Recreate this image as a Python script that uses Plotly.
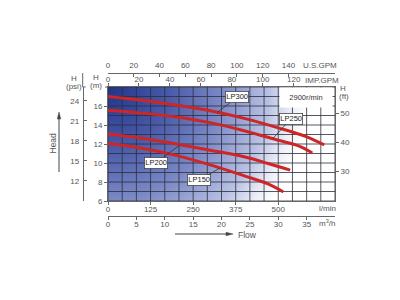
import numpy as np
import plotly.graph_objects as go

# ---------------- data ----------------
FLOW_LPM_300 = [0, 100, 200, 300, 400, 500, 580, 635]
HEAD_M_300 = [17.0, 16.6, 16.1, 15.5, 14.7, 13.7, 12.8, 11.9]
FLOW_LPM_250 = [0, 100, 200, 300, 400, 500, 560, 600]
HEAD_M_250 = [15.55, 15.25, 14.85, 14.25, 13.4, 12.4, 11.8, 11.05]
FLOW_LPM_200 = [0, 100, 200, 300, 400, 470, 535]
HEAD_M_200 = [13.05, 12.6, 12.0, 11.35, 10.65, 9.95, 9.25]
FLOW_LPM_150 = [0, 100, 200, 300, 400, 470, 515]
HEAD_M_150 = [12.05, 11.55, 10.8, 9.8, 8.65, 7.8, 6.95]

SERIES = [
    ("LP300", FLOW_LPM_300, HEAD_M_300),
    ("LP250", FLOW_LPM_250, HEAD_M_250),
    ("LP200", FLOW_LPM_200, HEAD_M_200),
    ("LP150", FLOW_LPM_150, HEAD_M_150),
]
# label anchor flow (l/min) and box offset in px
LABEL_AT = {"LP300": (321, 20, -15), "LP250": (484, 18, -20),
            "LP200": (212, -24, 18), "LP150": (329, -21, 12)}

LPM_TICKS = [0, 125, 250, 375, 500]
M3H_TICKS = [0, 5, 10, 15, 20, 25, 30, 35]
IMP_TICKS = [0, 20, 40, 60, 80, 100, 120]
US_TICKS = [0, 20, 40, 60, 80, 100, 120, 140]
M_TICKS = [6, 8, 10, 12, 14, 16]
FT_TICKS = [30, 40, 50]
PSI_TICKS = [12, 15, 18, 21, 24]

# unit conversions
LPM_PER_M3H = 1000 / 60
LPM_PER_IMP = 4.546
LPM_PER_US = 3.785
FT_PER_M = 1 / 0.3048
PSI_PER_M = 1.4223
PSI_OFF = 0.45

X_MAX_M3H = 40
X_MAX = X_MAX_M3H * LPM_PER_M3H
Y_MIN, Y_MAX = 6, 18
GRID_M3H = 2.5
GRID_M = 1

# ---------------- layout geometry ----------------
W, H = 400, 300
ML, MR, MT, MB = 40, 40, 40, 50
PW, PH = W - ML - MR, H - MT - MB
X0, X1, Y0, Y1 = 108, 335, 87, 201


def fx(p):
    return (p - ML) / PW


def fy(p):
    return (H - MB - p) / PH


FONT = "Liberation Sans, Arial, sans-serif"
GRAY = "#555"
LINE = "#666"

fig = go.Figure()

# background gradient (radial from top-left)
gx = np.linspace(0, X_MAX, 60)
gy = np.linspace(Y_MIN, Y_MAX, 40)
GX, GY = np.meshgrid(gx, gy)
dx = GX / X_MAX * (X1 - X0)
dy = (Y_MAX - GY) / (Y_MAX - Y_MIN) * (Y1 - Y0)
Z = np.clip(np.sqrt(dx ** 2 + dy ** 2) / 200, 0, 1)
fig.add_trace(go.Heatmap(
    x=gx, y=gy, z=Z, zmin=0, zmax=1, zsmooth="best", showscale=False,
    hoverinfo="skip",
    colorscale=[[0, "rgb(34,52,136)"], [0.3, "rgb(72,90,168)"],
                [0.56, "rgb(122,136,197)"], [0.8, "rgb(184,193,227)"],
                [0.92, "rgb(236,239,248)"], [1, "rgb(255,255,255)"]]))

# grid
glx, gly = [], []
for v in np.arange(0, X_MAX_M3H + 1e-9, GRID_M3H):
    glx += [v * LPM_PER_M3H, v * LPM_PER_M3H, None]
    gly += [Y_MIN, Y_MAX, None]
for h in np.arange(Y_MIN, Y_MAX + 1e-9, GRID_M):
    glx += [0, X_MAX, None]
    gly += [h, h, None]
fig.add_trace(go.Scatter(x=glx, y=gly, mode="lines", hoverinfo="skip",
                         line=dict(color="rgba(45,45,60,0.8)", width=1),
                         showlegend=False))

# curves
for name, fl, hd in SERIES:
    fig.add_trace(go.Scatter(x=fl, y=hd, mode="lines", name=name,
                             line=dict(color="rgb(206,38,38)", width=3, shape="spline"),
                             showlegend=False))

# dummy traces to register extra axes
for xa, ya, xs, ys in [("x2", "y", [0, X_MAX_M3H], [Y_MIN, Y_MIN]),
                       ("x3", "y", [0, X_MAX / LPM_PER_IMP], [Y_MIN, Y_MIN]),
                       ("x4", "y", [0, X_MAX / LPM_PER_US], [Y_MIN, Y_MIN]),
                       ("x", "y2", [0, 0], [Y_MIN * FT_PER_M, Y_MAX * FT_PER_M]),
                       ("x", "y3", [0, 0], [Y_MIN * PSI_PER_M + PSI_OFF, Y_MAX * PSI_PER_M + PSI_OFF])]:
    fig.add_trace(go.Scatter(x=xs, y=ys, xaxis=xa, yaxis=ya, mode="markers",
                             marker=dict(opacity=0), hoverinfo="skip", showlegend=False))

tf = dict(family=FONT, size=8, color=GRAY)
xd = [fx(X0), fx(X1)]
yd = [fy(Y1), fy(Y0)]
common = dict(showgrid=False, zeroline=False, showline=True, linecolor=LINE, linewidth=1,
              tickfont=tf, tickcolor=LINE, ticklen=3, tickwidth=1)

fig.update_layout(
    width=W, height=H, margin=dict(l=ML, r=MR, t=MT, b=MB),
    paper_bgcolor="white", plot_bgcolor="white", showlegend=False,
    font=dict(family=FONT, color=GRAY),
    xaxis=dict(domain=xd, range=[0, X_MAX], tickvals=LPM_TICKS, ticks="outside",
               anchor="y", side="bottom", ticklabelstandoff=-3, **common),
    xaxis2=dict(range=[0, X_MAX_M3H], tickvals=M3H_TICKS, ticks="outside",
                overlaying="x", anchor="free", position=fy(215.7), side="bottom",
                ticklabelstandoff=-2, **common),
    xaxis3=dict(range=[0, X_MAX / LPM_PER_IMP], tickvals=IMP_TICKS, ticks="outside",
                overlaying="x", anchor="y", side="top", ticklabelstandoff=-2, **common),
    xaxis4=dict(range=[0, X_MAX / LPM_PER_US], tickvals=US_TICKS, ticks="inside",
                overlaying="x", anchor="free", position=fy(72.7), side="top",
                ticklabelstandoff=2, **common),
    yaxis=dict(domain=yd, range=[Y_MIN, Y_MAX], tickvals=M_TICKS,
               ticks="outside", anchor="x", side="left", **common),
    yaxis2=dict(range=[Y_MIN * FT_PER_M, Y_MAX * FT_PER_M], tickvals=FT_TICKS,
                ticks="outside", overlaying="y", anchor="x", side="right", **common),
    yaxis3=dict(range=[Y_MIN * PSI_PER_M + PSI_OFF, Y_MAX * PSI_PER_M + PSI_OFF],
                tickvals=PSI_TICKS, ticks="inside", overlaying="y", anchor="free",
                position=fx(82.7), side="left", ticklabelstandoff=2, **common),
)

# psi axis line extension above plot, end ticks at top
fig.add_shape(type="line", xref="paper", yref="paper", x0=fx(82.7), x1=fx(82.7),
              y0=fy(Y0), y1=fy(73), line=dict(color=LINE, width=1))
fig.add_shape(type="line", xref="paper", yref="paper", x0=fx(82.7), x1=fx(85.7),
              y0=fy(Y0), y1=fy(Y0), line=dict(color=LINE, width=1))
fig.add_shape(type="line", xref="paper", yref="paper", x0=fx(X0 - 3), x1=fx(X0),
              y0=fy(Y0), y1=fy(Y0), line=dict(color=LINE, width=1))

# Head / Flow arrows (line + small triangle head)
ARW = "#444"
fig.add_shape(type="line", xref="paper", yref="paper", x0=fx(59), x1=fx(59),
              y0=fy(172), y1=fy(116), line=dict(color=ARW, width=1))
fig.add_shape(type="path", xref="paper", yref="paper", fillcolor=ARW,
              line=dict(color=ARW, width=0.5),
              path=f"M {fx(59)} {fy(112)} L {fx(57.3)} {fy(119)} L {fx(60.7)} {fy(119)} Z")
fig.add_shape(type="line", xref="paper", yref="paper", x0=fx(175), x1=fx(228),
              y0=fy(234), y1=fy(234), line=dict(color=ARW, width=1))
fig.add_shape(type="path", xref="paper", yref="paper", fillcolor=ARW,
              line=dict(color=ARW, width=0.5),
              path=f"M {fx(233)} {fy(234)} L {fx(226)} {fy(232.3)} L {fx(226)} {fy(235.7)} Z")

ann = []


def txt(t, x, y, size=8, **kw):
    ann.append(dict(text=t, x=fx(x), y=fy(y), xref="paper", yref="paper",
                    xanchor="center", yanchor="middle",
                    showarrow=False, font=dict(family=FONT, size=size, color=GRAY), **kw))


txt("U.S.GPM", 320, 65)
txt("IMP.GPM", 322, 80)
txt("H", 343, 88)
txt("(ft)", 344, 96)
txt("l/min", 327, 208)
txt("m<sup>3</sup>/h", 327, 223)
txt("H", 96, 77)
txt("(m)", 96, 85)
txt("H", 74, 78)
txt("(psi)", 74, 86)
txt("Head", 52.5, 143, size=8.5, textangle=-90)
txt("Flow", 247, 235, size=8.5)

# 2900 r/min white box
ann.append(dict(text="2900r/min", x=fx(305.5), y=fy(97.5), xref="paper", yref="paper",
                xanchor="center", yanchor="middle",
                showarrow=False, bgcolor="white", width=50, height=17,
                font=dict(family=FONT, size=7.5, color="#333")))

# curve labels
for name, fl, hd in SERIES:
    q, axp, ayp = LABEL_AT[name]
    ann.append(dict(text=name, x=q, y=float(np.interp(q, fl, hd)), xref="x", yref="y",
                    ax=axp, ay=ayp, showarrow=True, arrowhead=0, arrowwidth=0.8,
                    arrowcolor="#333", bgcolor="white", bordercolor="#444",
                    borderwidth=0.8, borderpad=0.5,
                    font=dict(family=FONT, size=7.5, color="#222")))

fig.update_layout(annotations=ann)
fig.write_html("out.html")
